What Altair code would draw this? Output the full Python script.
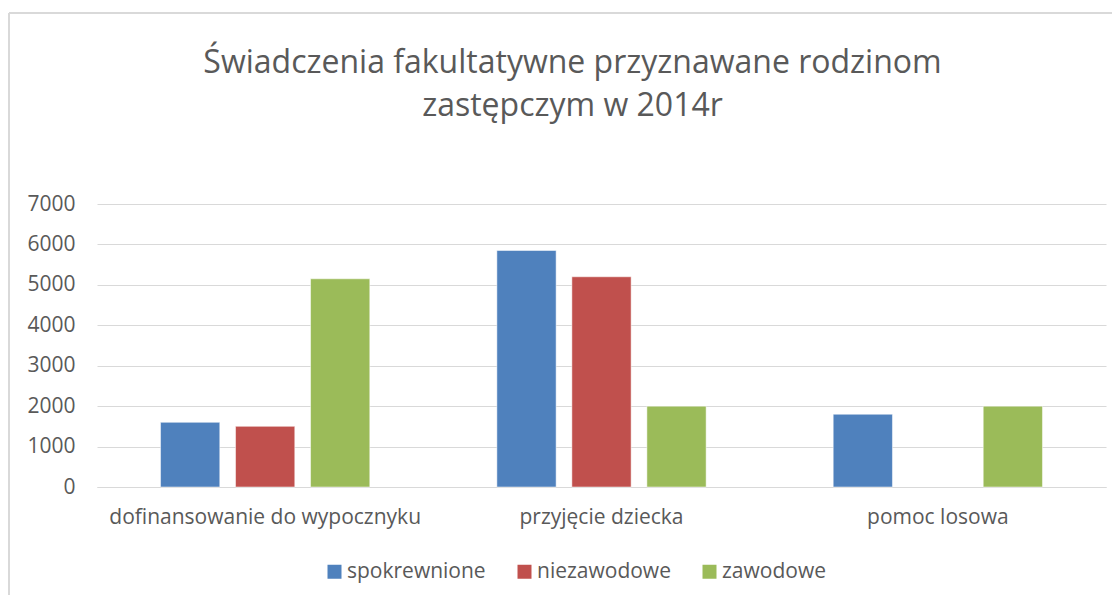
import altair as alt
import pandas as pd

categories = ["dofinansowanie do wypocznyku", "przyjęcie dziecka", "pomoc losowa"]
series = ["spokrewnione", "niezawodowe", "zawodowe"]
spokrewnione = [1600, 5850, 1800]
niezawodowe = [1500, 5200, None]
zawodowe = [5150, 2000, 2000]
colors = ["#4F81BD", "#C0504D", "#9BBB59"]
y_ticks = [0, 1000, 2000, 3000, 4000, 5000, 6000, 7000]

rows = []
for s, vals in zip(series, [spokrewnione, niezawodowe, zawodowe]):
    for c, v in zip(categories, vals):
        if v is not None:
            rows.append({"kategoria": c, "seria": s, "wartosc": v})
df = pd.DataFrame(rows)

FONT = "Open Sans"
GRAY = "#595959"

bars = alt.Chart(df).mark_bar(stroke="white", strokeOpacity=0.5, strokeWidth=1).encode(
    x=alt.X("kategoria:N", sort=categories,
            scale=alt.Scale(domain=categories, paddingInner=0, paddingOuter=0),
            axis=alt.Axis(title=None, labelAngle=0, ticks=False, grid=False,
                          domainColor="#d9d9d9", labelLimit=0,
                          labelPadding=19, labelFontSize=21, labelColor=GRAY,
                          labelFont=FONT)),
    xOffset=alt.XOffset("seria:N", sort=series,
                        scale=alt.Scale(domain=series, paddingInner=0.21, paddingOuter=0.847)),
    y=alt.Y("wartosc:Q", scale=alt.Scale(domain=[0, 7000], nice=False),
            axis=alt.Axis(title=None, values=y_ticks, ticks=False, domain=False, grid=True,
                          format="d", gridColor="#d9d9d9", labelPadding=22, labelFontSize=21,
                          labelColor=GRAY, labelFont=FONT)),
    color=alt.Color("seria:N", sort=series,
                    scale=alt.Scale(domain=series, range=colors),
                    legend=alt.Legend(title=None, orient="none", direction="horizontal",
                                      legendX=227, legendY=357, symbolType="square",
                                      symbolSize=196, symbolStrokeWidth=0,
                                      labelFontSize=21, labelColor=GRAY, labelFont=FONT,
                                      columnPadding=28, symbolOffset=0, labelOffset=2)),
)

border_top = alt.Chart(pd.DataFrame({"a": [0]})).mark_rule(color="#d9d9d9", strokeWidth=2).encode(
    x=alt.value(-88), x2=alt.value(1020), y=alt.value(-191))
border_left = alt.Chart(pd.DataFrame({"a": [0]})).mark_rule(color="#d9d9d9", strokeWidth=2).encode(
    x=alt.value(-88), y=alt.value(-191), y2=alt.value(400))

chart = alt.layer(border_top, border_left, bars).properties(
    width=1009, height=283,
    autosize=alt.AutoSizeParams(type="none"),
    padding={"left": 89, "top": 196, "right": 6, "bottom": 108},
    title=alt.TitleParams(["Świadczenia fakultatywne przyznawane rodzinom", "zastępczym w 2014r"],
                          font=FONT, fontSize=32, fontWeight="normal", color=GRAY,
                          lineHeight=43, offset=-111, dx=-29, anchor="middle"),
).configure_view(stroke=None)

chart.save("out.html", embed_options={"renderer": "svg", "actions": False})
